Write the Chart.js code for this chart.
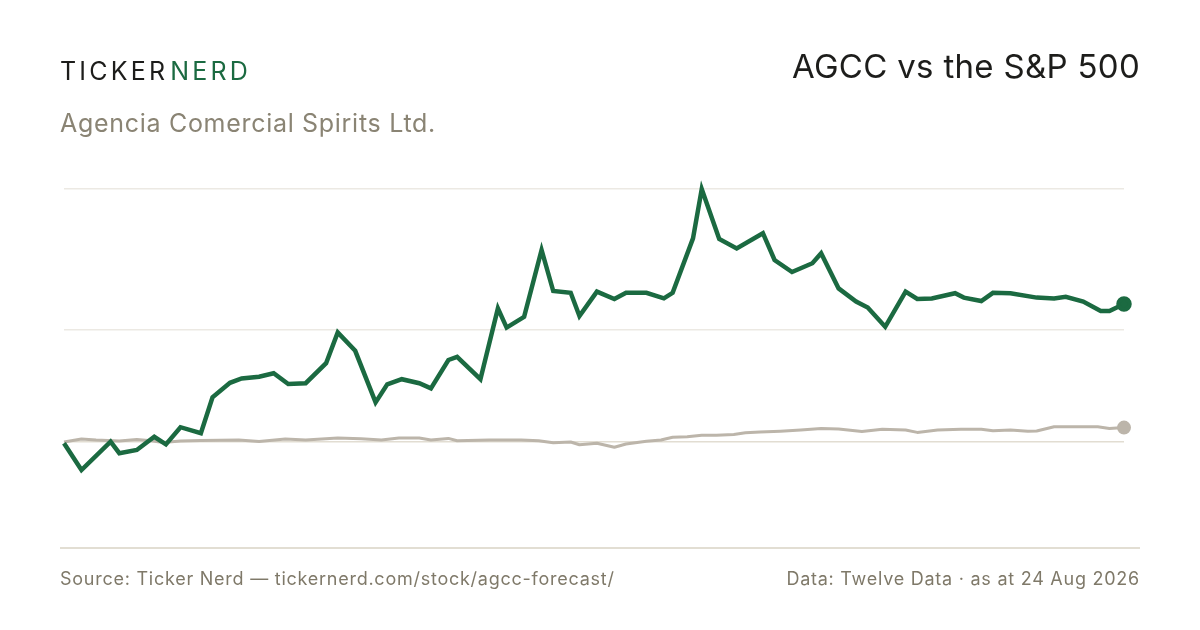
<!DOCTYPE html>
<html>
<head>
<meta charset="utf-8">
<script src="https://cdn.jsdelivr.net/npm/chart.js@4"></script>
<style>
  html, body { margin: 0; padding: 0; background: #fff; }
  body { width: 1200px; height: 630px; position: relative; overflow: hidden; font-family: Inter, "Noto Sans", sans-serif; }
  #wrap { position: absolute; left: 0; top: 0; width: 1200px; height: 630px; }
  .logo { position: absolute; left: 60px; top: 56px; font-size: 25px; letter-spacing: 3.2px; color: #1d1d1b; line-height: 30px; }
  .logo span { color: #1b6a41; margin-left: 2px; }
  .title { position: absolute; right: 60px; top: 46px; font-size: 33px; letter-spacing: 0.3px; color: #1d1d1b; line-height: 40px; }
  .sub { position: absolute; left: 60px; top: 107px; font-size: 25px; letter-spacing: 0.7px; color: #8a8474; line-height: 32px; }
  .rule { position: absolute; left: 60px; top: 547px; width: 1080px; height: 2px; background: #e2ded3; }
  .foot { position: absolute; top: 568px; font-size: 18px; letter-spacing: 0.75px; color: #7f7969; line-height: 22px; }
</style>
</head>
<body>
<div id="wrap"><canvas id="priceChart"></canvas></div>
<div class="logo">TICKER<span>NERD</span></div>
<div class="title">AGCC vs the S&amp;P 500</div>
<div class="sub">Agencia Comercial Spirits Ltd.</div>
<div class="rule"></div>
<div class="foot" style="left:60px">Source: Ticker Nerd — tickernerd.com/stock/agcc-forecast/</div>
<div class="foot" style="right:60px">Data: Twelve Data · as at 24 Aug 2026</div>
<script>
// % change since start, x = days into the period
const agccDays = [0, 6, 16, 19, 25, 31, 35, 40, 47, 51, 57, 61, 67, 72, 77, 83, 90, 94, 100, 107, 111, 116, 122, 126, 132, 135, 143, 149, 152, 158, 164, 168, 174, 177, 183, 189, 193, 200, 206, 209, 216, 219, 225, 231, 240, 244, 250, 257, 260, 266, 272, 276, 282, 289, 293, 298, 306, 309, 315, 319, 325, 334, 340, 344, 350, 356, 359, 364];
const agccValues = [-0.6, -14, 0.2, -5.6, -4, 2.6, -1.2, 7.4, 4.4, 22.4, 29.6, 31.8, 32.6, 34.4, 29, 29.4, 39.4, 54.8, 45.6, 19.8, 28.8, 31.4, 29.4, 26.8, 41, 42.6, 31.4, 66.8, 57.2, 62.6, 96, 75.5, 74.6, 63, 75.2, 71.5, 74.6, 74.6, 71.8, 74.6, 101.8, 126.5, 101.5, 96.8, 104.4, 91, 85, 89.4, 94.4, 76.8, 70.2, 67.2, 57.6, 75.2, 71.5, 71.8, 74.4, 72.2, 70.5, 74.6, 74.4, 72.2, 71.8, 72.6, 70.2, 65.5, 65.5, 69];

const spxDays = [0, 6, 11, 19, 25, 30, 34, 40, 47, 60, 67, 76, 83, 94, 102, 109, 115, 122, 126, 132, 135, 146, 157, 163, 168, 174, 177, 183, 189, 193, 200, 205, 209, 214, 219, 224, 230, 234, 239, 246, 253, 260, 266, 274, 281, 289, 293, 300, 308, 315, 319, 325, 331, 334, 340, 347, 355, 359, 364];
const spxValues = [0, 1.5, 1, 0.5, 1.3, 0.6, -0.2, 0.5, 0.8, 1, 0.2, 1.5, 1, 2, 1.6, 1, 2, 2, 1, 1.8, 0.6, 1, 1, 0.6, -0.4, 0, -1.4, -0.6, -2.6, -1, 0.4, 1, 2.4, 2.6, 3.4, 3.4, 3.8, 4.6, 5, 5.4, 6, 6.8, 6.5, 5.2, 6.4, 6, 4.8, 6, 6.4, 6.4, 5.6, 6, 5.4, 5.5, 7.6, 7.6, 7.6, 6.8, 7.2];

const green = '#1b6a41';
const sand = '#bcb5aa';

const allValues = agccValues.concat(spxValues);
const yMin = Math.min(...allValues);
const yMax = Math.max(...allValues);
const yMid = (yMin + yMax) / 2;

const toPoints = (xs, ys) => xs.map((d, i) => ({ x: d, y: ys[i] }));
const lastDot = (n, r) => ctx => ctx.dataIndex === n - 1 ? r : 0;

const ctx_price = document.getElementById('priceChart');

let chart_price = new Chart(ctx_price, {
    type: 'line',
    data: {
        datasets: [{
            label: 'S&P 500',
            data: toPoints(spxDays, spxValues),
            borderColor: sand,
            backgroundColor: sand,
            borderWidth: 3,
            pointRadius: lastDot(spxDays.length, 5.5),
            pointHoverRadius: 0,
            borderJoinStyle: 'round',
            clip: false,
            order: 2
        }, {
            label: 'AGCC',
            data: toPoints(agccDays, agccValues),
            borderColor: green,
            backgroundColor: green,
            borderWidth: 4.5,
            pointRadius: lastDot(agccDays.length, 5.5),
            pointHoverRadius: 0,
            borderJoinStyle: 'miter',
            clip: false,
            order: 1
        }]
    },
    options: {
        responsive: true,
        maintainAspectRatio: false,
        animation: false,
        events: [],
        layout: {
            padding: { left: 64, right: 76, top: 189, bottom: 160 }
        },
        plugins: {
            legend: { display: false },
            tooltip: { enabled: false }
        },
        scales: {
            x: {
                type: 'linear',
                min: 0,
                max: 364,
                display: false
            },
            y: {
                min: yMin,
                max: yMax,
                afterBuildTicks: scale => {
                    scale.ticks = [{ value: 0 }, { value: yMid }, { value: yMax }];
                },
                ticks: { display: false },
                border: { display: false },
                grid: {
                    drawTicks: false,
                    lineWidth: 1.5,
                    color: c => c.tick && c.tick.value === 0 ? '#e2ddd2' : '#ece9e3'
                }
            }
        }
    }
});
</script>
</body>
</html>
